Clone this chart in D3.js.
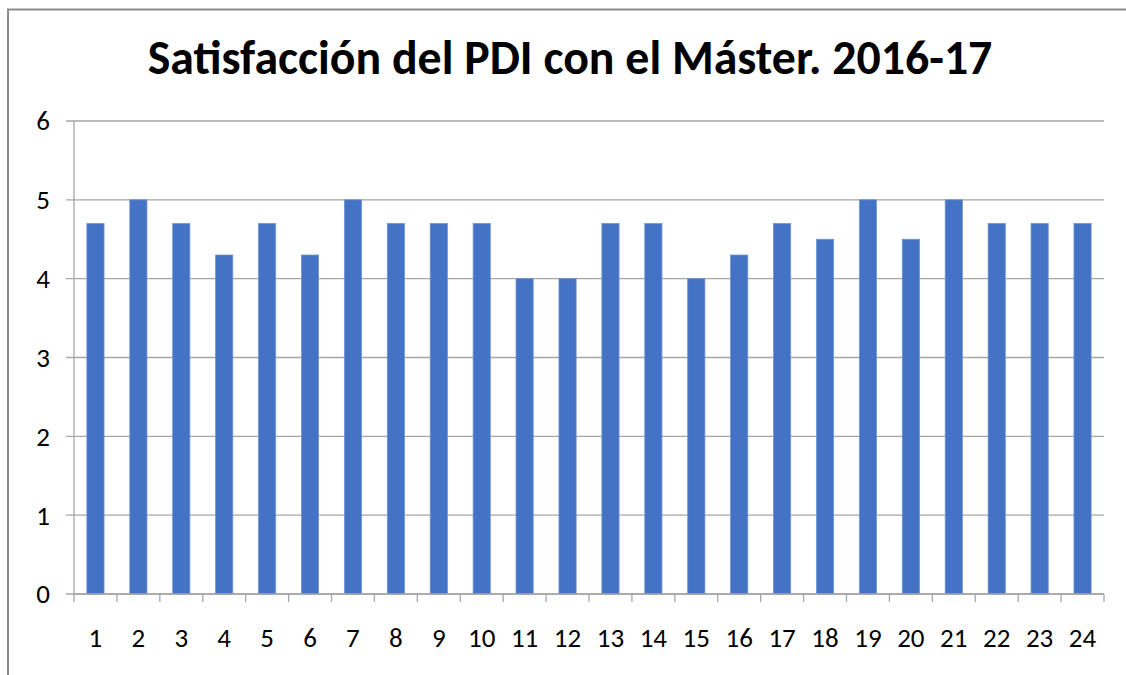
<!DOCTYPE html>
<html lang="es">
<meta charset="UTF-8">
<style>
    body{ margin:0; background:#fff; }
    svg text{ font-family:Carlito, Lato, "Open Sans", sans-serif; fill:#000; }
    .grid line{ stroke:#a6a6a6; stroke-width:1.3; }
</style>
<body>
<div id="chart"></div>
<script src="https://cdn.jsdelivr.net/npm/d3@7"></script>
<script>
    // data
    var categories = ["1","2","3","4","5","6","7","8","9","10","11","12",
                      "13","14","15","16","17","18","19","20","21","22","23","24"];
    var values = [4.7, 5, 4.7, 4.3, 4.7, 4.3, 5, 4.7, 4.7, 4.7, 4, 4,
                  4.7, 4.7, 4, 4.3, 4.7, 4.5, 5, 4.5, 5, 4.7, 4.7, 4.7];
    var yTicks = [0, 1, 2, 3, 4, 5, 6];
    var title = "Satisfacción del PDI con el Máster. 2016-17";

    var width = 1126, height = 675;
    var margin = {top:121, right:22, bottom:81, left:74};
    var tickSize = 27;

    var svg = d3.select("#chart").append("svg")
        .attr("width", width)
        .attr("height", height);

    // outer frame (only top and left edges are visible in the picture)
    svg.append("rect")
        .attr("x", 8).attr("y", 9.5)
        .attr("width", width + 20).attr("height", height + 20)
        .attr("fill", "none")
        .attr("stroke", "#8c8c8c")
        .attr("stroke-width", 2);

    var x = d3.scaleBand()
        .domain(categories)
        .range([margin.left, width - margin.right])
        .paddingInner(0.6)
        .paddingOuter(0.3);

    var y = d3.scaleLinear()
        .domain([0, 6])
        .range([height - margin.bottom, margin.top]);

    // horizontal gridlines + y labels
    var grid = svg.append("g").attr("class", "grid");
    grid.selectAll("line")
        .data(yTicks)
        .enter().append("line")
        .attr("x1", margin.left - 8)
        .attr("x2", width - margin.right)
        .attr("y1", function(d){ return y(d); })
        .attr("y2", function(d){ return y(d); });

    svg.append("g").selectAll("text")
        .data(yTicks)
        .enter().append("text")
        .attr("font-size", tickSize)
        .attr("x", 50)
        .attr("y", function(d){ return y(d); })
        .attr("dy", "0.35em")
        .attr("text-anchor", "end")
        .text(function(d){ return d; });

    // y axis line
    svg.append("line")
        .attr("x1", margin.left).attr("x2", margin.left)
        .attr("y1", y(6)).attr("y2", y(0))
        .attr("stroke", "#a6a6a6").attr("stroke-width", 1.3);

    // bars
    svg.append("g").selectAll("rect")
        .data(values)
        .enter().append("rect")
        .attr("x", function(d, i){ return x(categories[i]); })
        .attr("y", function(d){ return y(d); })
        .attr("width", x.bandwidth())
        .attr("height", function(d){ return y(0) - y(d); })
        .attr("fill", "#4472c4")
        .attr("stroke", "#6f93d4")
        .attr("stroke-width", 0.8);

    // x axis baseline and ticks between categories
    var x0 = margin.left, x1 = width - margin.right;
    var band = (x1 - x0) / categories.length;
    svg.append("line")
        .attr("x1", x0).attr("x2", x1)
        .attr("y1", y(0)).attr("y2", y(0))
        .attr("stroke", "#a6a6a6").attr("stroke-width", 1.3);
    svg.append("g").selectAll("line")
        .data(d3.range(categories.length + 1))
        .enter().append("line")
        .attr("x1", function(i){ return x0 + i * band; })
        .attr("x2", function(i){ return x0 + i * band; })
        .attr("y1", y(0))
        .attr("y2", y(0) + 8)
        .attr("stroke", "#a6a6a6").attr("stroke-width", 1.3);

    svg.append("g").selectAll("text")
        .data(categories)
        .enter().append("text")
        .attr("font-size", tickSize)
        .attr("x", function(d){ return x(d) + x.bandwidth() / 2; })
        .attr("y", 638)
        .attr("dy", "0.35em")
        .attr("text-anchor", "middle")
        .text(function(d){ return d; });

    // title, scaled to the width it has in the reference
    var t = svg.append("text")
        .attr("x", 570)
        .attr("y", 74)
        .attr("text-anchor", "middle")
        .attr("font-weight", "bold")
        .attr("font-size", 44)
        .text(title);
    var w = t.node().getComputedTextLength();
    t.attr("font-size", 44 * 845 / w);
</script>
</body>
</html>
